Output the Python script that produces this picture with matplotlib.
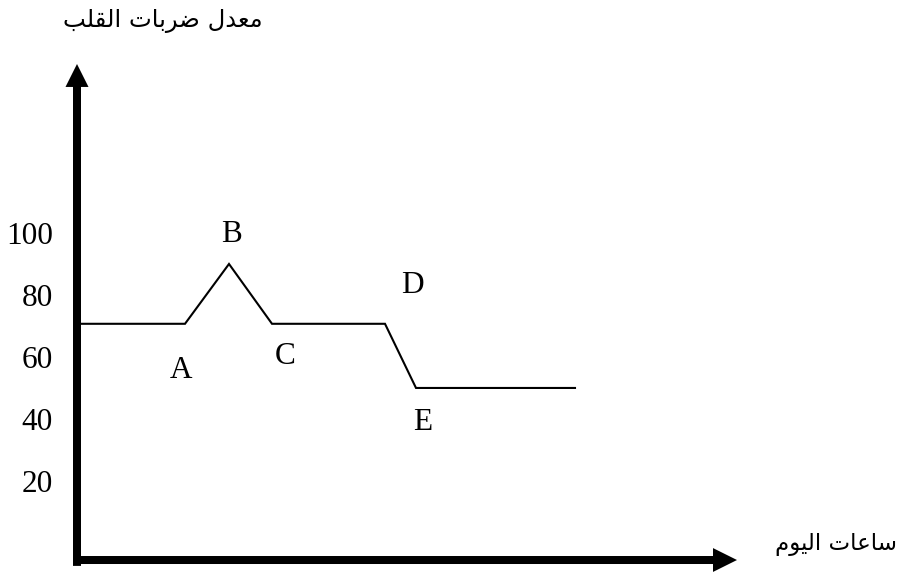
import matplotlib
matplotlib.use("Agg")
import matplotlib.pyplot as plt

# ---- data ----
hours = [0, 10.8, 15.2, 19.5, 30.8, 33.9, 49.8]
heart_rate = [72, 72, 91.3, 72, 72, 51.3, 51.3]
point_labels = ["", "A", "B", "C", "D", "E", ""]
ytick_values = [100, 80, 60, 40, 20]
y_title = "معدل ضربات القلب"
x_title = "ساعات اليوم"

# ---- simple Arabic shaping (matplotlib has no complex text layout) ----
FORMS = {  # isolated, final, initial, medial
    "ا": ("\uFE8D", "\uFE8E", None, None),
    "ب": ("\uFE8F", "\uFE90", "\uFE91", "\uFE92"),
    "ت": ("\uFE95", "\uFE96", "\uFE97", "\uFE98"),
    "د": ("\uFEA9", "\uFEAA", None, None),
    "ر": ("\uFEAD", "\uFEAE", None, None),
    "س": ("\uFEB1", "\uFEB2", "\uFEB3", "\uFEB4"),
    "ض": ("\uFEBD", "\uFEBE", "\uFEBF", "\uFEC0"),
    "ع": ("\uFEC9", "\uFECA", "\uFECB", "\uFECC"),
    "ق": ("\uFED5", "\uFED6", "\uFED7", "\uFED8"),
    "ل": ("\uFEDD", "\uFEDE", "\uFEDF", "\uFEE0"),
    "م": ("\uFEE1", "\uFEE2", "\uFEE3", "\uFEE4"),
    "و": ("\uFEED", "\uFEEE", None, None),
    "ي": ("\uFEF1", "\uFEF2", "\uFEF3", "\uFEF4"),
}


def shape(text):
    out = []
    for i, ch in enumerate(text):
        if ch not in FORMS:
            out.append(ch)
            continue
        prev = text[i - 1] if i > 0 else ""
        nxt = text[i + 1] if i + 1 < len(text) else ""
        jp = prev in FORMS and FORMS[prev][2] is not None
        jn = FORMS[ch][2] is not None and nxt in FORMS
        iso, fin, ini, med = FORMS[ch]
        if jp and jn:
            out.append(med)
        elif jp:
            out.append(fin)
        elif jn:
            out.append(ini)
        else:
            out.append(iso)
    return "".join(out)[::-1]


# ---- figure: data scale 10 px per hour, 3.1 px per beat ----
fig = plt.figure(figsize=(9, 5.77), dpi=100)
ax = fig.add_axes([0, 0, 1, 1])
ax.set_xlim(-7.7, 82.3)
ax.set_ylim(-9.68, 176.45)
ax.axis("off")

serif = "Liberation Serif"
arabic = ["DejaVu Sans"]

# axes arrows
x0, x_tip = -0.4, 66.0
y0, y_tip = -6.1, 155.8
ax.arrow(0, y0, 0, y_tip - y0, width=0.8, head_width=2.3, head_length=7.4,
         length_includes_head=True, fc="black", ec="none", zorder=3)
ax.arrow(x0, -4.2, x_tip - x0, 0, width=2.58, head_width=7.7, head_length=2.4,
         length_includes_head=True, fc="black", ec="none", zorder=3)

# curve
ax.plot(hours, heart_rate, color="black", lw=1.5, solid_joinstyle="miter", zorder=2)

# point labels
offsets = {"A": (-4, -47), "B": (3, 29), "C": (13, -33), "D": (27, 38), "E": (7, -35)}
for h, r, lab in zip(hours, heart_rate, point_labels):
    if lab:
        ax.annotate(lab, xy=(h, r), xytext=offsets[lab], textcoords="offset pixels",
                    ha="center", va="center", fontsize=22.5, family=serif)

# y tick labels
for v in ytick_values:
    ax.text(-2.4, v, str(v), ha="right", va="center", fontsize=22.5, family=serif)

# titles
ax.text(8.6, 169.8, shape(y_title), ha="center", va="center", fontsize=17.5, family=arabic)
ax.text(69.8, 0.9, shape(x_title), ha="left", va="center", fontsize=16.5, family=arabic)

fig.savefig("out.png", dpi=100)
